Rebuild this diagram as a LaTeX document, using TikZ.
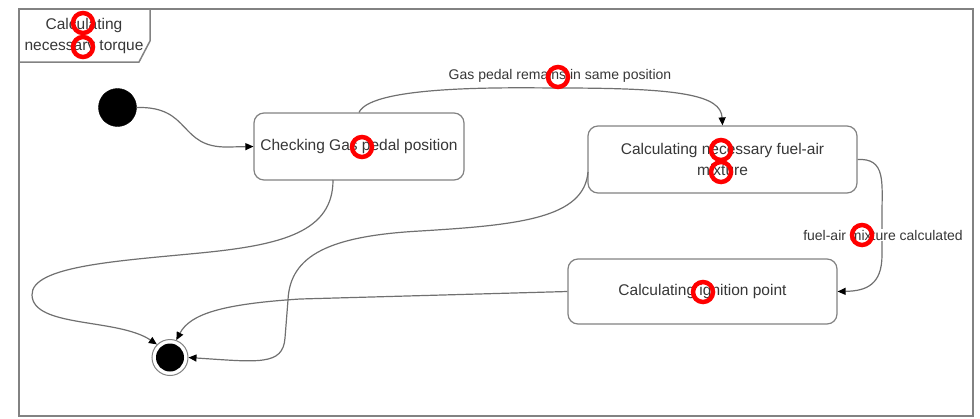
\documentclass[tikz,border=0pt]{standalone}
\usepackage{fontspec}
\setmainfont{Liberation Sans}
\usetikzlibrary{arrows.meta}
\definecolor{linegray}{RGB}{112,112,112}
\definecolor{boxgray}{RGB}{130,130,130}
\definecolor{txtgray}{RGB}{55,55,55}
\definecolor{markred}{RGB}{255,0,0}
\tikzset{
  statebox/.style={draw=boxgray, line width=1.2pt, rounded corners=10pt, fill=white,
    text=txtgray, align=center, inner sep=0pt, font=\fontsize{15.5}{21}\selectfont},
  edgelabel/.style={text=txtgray, inner sep=1pt, font=\fontsize{14}{16}\selectfont},
  conn/.style={draw=linegray, line width=1.2pt, -{Triangle[length=8pt,width=7pt,fill=black,color=black]}},
  redmark/.style={draw=markred, line width=4.5pt},
}
\begin{document}
\begin{tikzpicture}[x=1pt,y=-1pt]
\useasboundingbox (0,0) rectangle (980,418);
% frame and tab
\draw[boxgray, line width=1.5pt] (19,9) rectangle (973,416);
\draw[boxgray, line width=1.5pt] (19,9) -- (150,9) -- (150,41) -- (139,62) -- (19,62);
\node[text=txtgray, align=center, font=\fontsize{15.5}{21}\selectfont] (tabtxt) at (84,36) {Calculating\\necessary torque};
% states
\node[circle, fill=black, draw=black, minimum size=38pt, inner sep=0pt] (init) at (117.5,107.5) {};
\node[statebox, minimum width=210pt, minimum height=67pt] (check) at (359,146.5) {Checking Gas pedal position};
\node[statebox, minimum width=269pt, minimum height=67pt] (fuel) at (722.5,159.5) {Calculating necessary fuel-air\\mixture};
\node[statebox, minimum width=269pt, minimum height=65pt] (ign) at (702.5,291.5) {Calculating ignition point};
\node[circle, draw=boxgray, line width=1pt, fill=white, minimum size=36pt, inner sep=0pt] (final) at (170,357.5) {};
\node[circle, fill=black, minimum size=28pt, inner sep=0pt] (finalin) at (170,357.5) {};
% connector ends on box sides
\coordinate (checkout) at (333,180);
\coordinate (fuelout) at (588,172);
% labels
\node[edgelabel] (lgas) at (560,76) {Gas pedal remains in same position};
% connectors
\draw[conn] (init.east) .. controls (192,106) and (178,148) .. (228,147) -- (check.west);
\draw[conn] (check.north) .. controls (372,84) and (520,88) .. (560,88) .. controls (680,88) and (721,95) .. (fuel.north);
\draw[conn] (fuel.east) .. controls (886,158) and (882,182) .. (882,215) -- (882,255) .. controls (882,285) and (866,291) .. (ign.east);
\node[edgelabel, fill=white] (lfuel) at (883,235) {fuel-air mixture calculated};
\draw[conn] (checkout) .. controls (333,232) and (282,245) .. (200,253) .. controls (118,261) and (31,266) .. (32,295) .. controls (33,328) and (118,318) .. (final.135);
\draw[conn] (ign.west) -- (300,299) .. controls (222,304) and (190,314) .. (final.70);
\draw[conn] (fuelout) .. controls (584,218) and (520,225) .. (420,231) .. controls (330,236) and (290,255) .. (288,300) -- (285,338) .. controls (283,366) and (258,362) .. (final.east);
% red marks
\draw[redmark] (83,23) circle (10);
\draw[redmark] (83,47) circle (10);
\draw[redmark] (362,147) circle (10);
\draw[redmark] (558,77) circle (10);
\draw[redmark] (721,150) circle (10);
\draw[redmark] (721,172) circle (10);
\draw[redmark] (862,235) circle (10);
\draw[redmark] (703,292) circle (10);
\end{tikzpicture}
\end{document}
